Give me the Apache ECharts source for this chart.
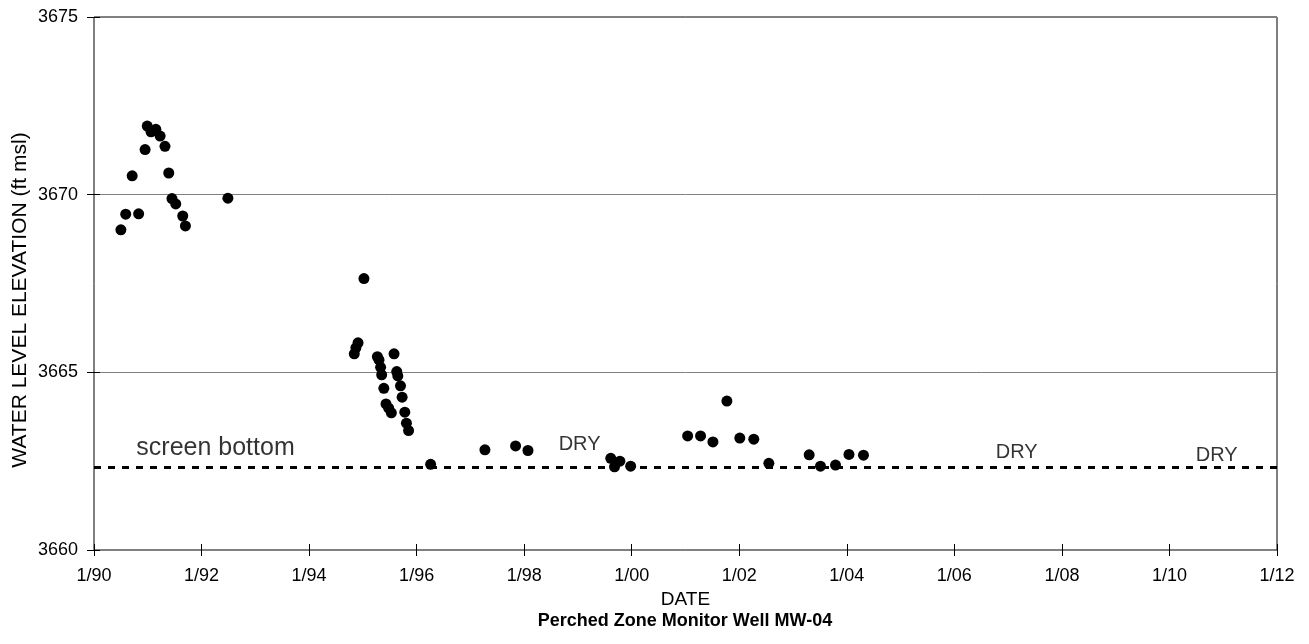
<!DOCTYPE html>
<html>
<head>
<meta charset="utf-8">
<script src="https://cdn.jsdelivr.net/npm/echarts@6/dist/echarts.min.js"></script>
<style>html,body{margin:0;padding:0;background:#fff;}#c{width:1309px;height:644px;}</style>
</head>
<body>
<div id="c"></div>
<script>
// Sample dates (decimal years) and water level elevations (ft msl)
const dates = [1990.50,1990.59,1990.71,1990.83,1990.95,1990.99,1991.06,1991.15,1991.23,1991.32,1991.39,1991.45,1991.52,1991.65,1991.70,1992.49,
  1994.84,1994.87,1994.91,1995.02,1995.27,1995.30,1995.33,1995.35,1995.39,1995.43,1995.48,1995.53,1995.58,1995.63,1995.65,1995.70,1995.73,1995.78,1995.81,1995.85,
  1996.26,1997.27,1997.84,1998.07,
  1999.61,1999.68,1999.78,1999.98,
  2001.04,2001.28,2001.51,2001.77,2002.01,2002.27,2002.55,2003.30,2003.51,2003.79,2004.04,2004.31];
const elev = [3669.01,3669.45,3670.53,3669.46,3671.27,3671.93,3671.77,3671.84,3671.65,3671.36,3670.61,3669.89,3669.74,3669.40,3669.12,3669.90,
  3665.52,3665.69,3665.83,3667.64,3665.44,3665.35,3665.14,3664.93,3664.55,3664.11,3663.99,3663.86,3665.52,3665.02,3664.90,3664.62,3664.30,3663.88,3663.57,3663.36,
  3662.41,3662.82,3662.93,3662.80,
  3662.58,3662.34,3662.50,3662.36,
  3663.21,3663.21,3663.04,3664.19,3663.15,3663.12,3662.44,3662.68,3662.36,3662.39,3662.69,3662.67];
const screenBottom = 3662.32;
const screenBottomText = 'screen bottom';
const screenBottomAt = [1992.26, 3662.87];
const dryText = 'DRY';
const dryYears = [1999.03, 2007.16, 2010.88];
const dryLevels = [3662.96, 3662.74, 3662.67];
const xTickYears = [1990,1992,1994,1996,1998,2000,2002,2004,2006,2008,2010,2012];
const yTicks = [3660,3665,3670,3675];
const xTitle = 'DATE';
const yTitle = 'WATER LEVEL ELEVATION (ft msl)';
const chartTitle = 'Perched Zone Monitor Well MW-04';

const FONT = '"Liberation Sans", Arial, sans-serif';
const xLabel = v => '1/' + String(v % 100).padStart(2, '0');
const yLabel = v => String(v);

const chart = echarts.init(document.getElementById('c'), null, {renderer: 'canvas'});
const points = dates.map((d, i) => [d, elev[i]]);
const dryPts = dryYears.map((d, i) => [d, dryLevels[i]]);
const xMin = xTickYears[0], xMax = xTickYears[xTickYears.length - 1];
const yMin = yTicks[0], yMax = yTicks[yTicks.length - 1];

chart.setOption({
  animation: false,
  backgroundColor: '#fff',
  title: {
    text: chartTitle, left: 685, top: 612, textAlign: 'center', padding: 0,
    textStyle: {fontFamily: FONT, fontSize: 18, fontWeight: 'bold', color: '#000'}
  },
  graphic: [{
    type: 'text', x: 20, y: 300, rotation: Math.PI / 2,
    style: {text: yTitle, fill: '#000', font: '21px ' + FONT, textAlign: 'center', textVerticalAlign: 'middle'}
  }],
  grid: {left: 94, right: 32, top: 17, bottom: 94, show: true, borderColor: '#000', borderWidth: 1, outerBoundsMode: 'none'},
  xAxis: {
    type: 'value', min: xMin, max: xMax, interval: 2, position: 'bottom', offset: -6,
    name: xTitle, nameLocation: 'middle', nameGap: 40,
    nameTextStyle: {fontFamily: FONT, fontSize: 19, color: '#000'},
    axisLine: {show: false, onZero: false},
    axisTick: {show: true, length: 12, lineStyle: {color: '#000', width: 1}},
    axisLabel: {formatter: xLabel, margin: 23, fontFamily: FONT, fontSize: 18, color: '#000'},
    splitLine: {show: false}
  },
  yAxis: {
    type: 'value', min: yMin, max: yMax, interval: 5, position: 'left', offset: -6,
    axisLine: {show: false, onZero: false},
    axisTick: {show: true, length: 13, lineStyle: {color: '#000', width: 1}},
    axisLabel: {formatter: yLabel, margin: 22, fontFamily: FONT, fontSize: 18, color: '#000'},
    splitLine: {show: true, lineStyle: {color: '#808080', width: 1}}
  },
  series: [{
    type: 'scatter', data: points,
    symbol: 'circle', symbolSize: 11, itemStyle: {color: '#000', opacity: 1}, z: 5,
    markLine: {
      silent: true, symbol: 'none', label: {show: false},
      lineStyle: {color: '#000', width: 3, type: [7, 7], opacity: 1},
      data: [{yAxis: screenBottom}]
    }
  }, {
    type: 'scatter', data: [screenBottomAt], symbolSize: 0, silent: true,
    label: {show: true, position: 'inside', formatter: screenBottomText, fontFamily: FONT, fontSize: 25, color: '#000'}
  }, {
    type: 'scatter', data: dryPts, symbolSize: 0, silent: true,
    label: {show: true, position: 'inside', formatter: dryText, fontFamily: FONT, fontSize: 20, color: '#000'}
  }]
});
</script>
</body>
</html>
